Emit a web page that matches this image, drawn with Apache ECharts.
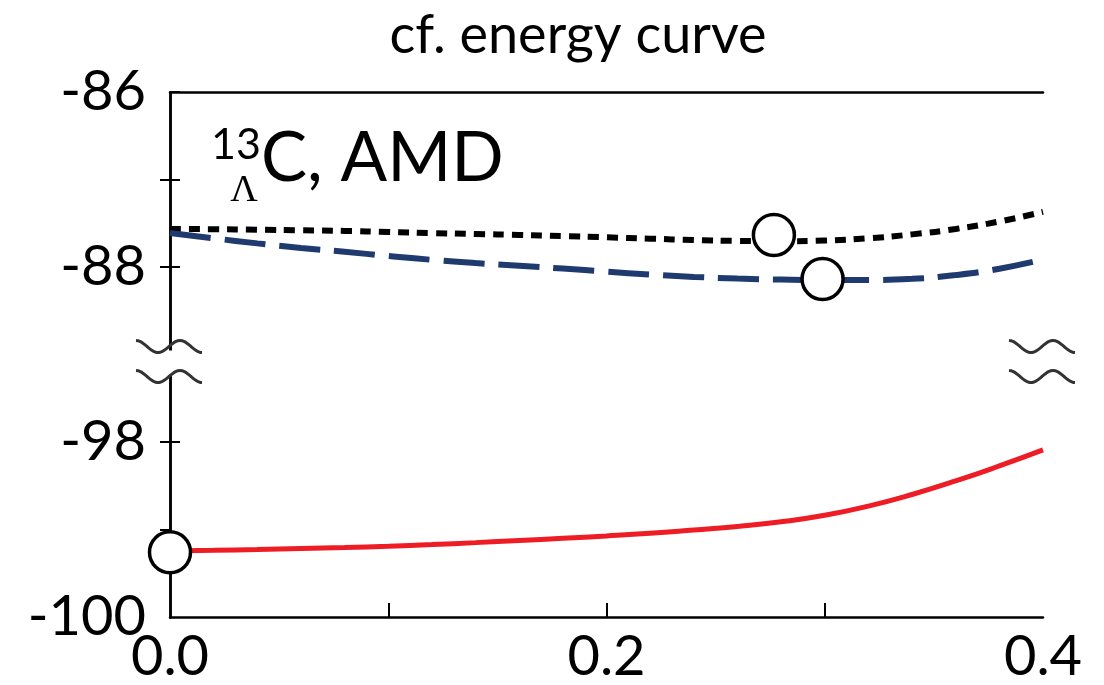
<!DOCTYPE html>
<html><head><meta charset="utf-8">
<script src="https://cdn.jsdelivr.net/npm/echarts@6/dist/echarts.min.js"></script>
<style>html,body{margin:0;padding:0;background:#fff}#c{width:1104px;height:685px}</style>
</head><body><div id="c"></div>
<script>
// ---- data ----
const xGrid = [0.00,0.02,0.04,0.06,0.08,0.10,0.12,0.14,0.16,0.18,0.20,0.22,0.24,0.26,0.28,0.30,0.32,0.34,0.36,0.38,0.40];
const dottedE = [-87.566,-87.568,-87.573,-87.580,-87.588,-87.600,-87.612,-87.623,-87.633,-87.647,-87.661,-87.676,-87.692,-87.702,-87.706,-87.698,-87.672,-87.627,-87.565,-87.480,-87.370];
const dashedE = [-87.611,-87.672,-87.730,-87.782,-87.826,-87.874,-87.918,-87.955,-87.985,-88.018,-88.053,-88.086,-88.113,-88.132,-88.143,-88.148,-88.148,-88.135,-88.092,-88.020,-87.915];
const solidE  = [-99.246,-99.238,-99.229,-99.218,-99.206,-99.191,-99.172,-99.150,-99.126,-99.101,-99.074,-99.043,-99.005,-98.965,-98.912,-98.838,-98.733,-98.600,-98.445,-98.274,-98.091];
const minX = [0.0, 0.2767, 0.299];
const minE = [-99.26, -87.634, -88.137];
const yLabelValues = [-100, -98, -88, -86];
const yTicksLeft = [-98, -88, -87, -86];
const yTicksRight = [-99, -98, -88, -87];
const xLabelValues = [0.0, 0.2, 0.4];
const xTickValues = [0.1, 0.2, 0.3];
const yBreakStart = -97, yBreakEnd = -89;
const titleText = 'cf. energy curve';

const FONT = 'Lato';
const chart = echarts.init(document.getElementById('c'), null, {renderer: 'canvas'});

function pairs(xs, ys) { return xs.map((x, i) => [x, ys[i]]); }

const yBase = {
  type: 'value', min: -100, max: -86,
  breaks: [{start: yBreakStart, end: yBreakEnd, gap: 0}],
  breakArea: {show: false},
  splitLine: {show: false},
  axisLine: {show: true, lineStyle: {color: '#000', width: 2.5}}
};

chart.setOption({
  animation: false,
  backgroundColor: '#fff',
  title: {
    text: titleText, left: 573, textAlign: 'center', top: 4,
    textStyle: {fontFamily: FONT, fontWeight: 'normal', fontSize: 54, color: '#000'}
  },
  grid: {left: 170, right: 61, top: 92, bottom: 68, containLabel: false},
  xAxis: [{
    type: 'value', min: 0, max: 0.4, position: 'bottom',
    splitLine: {show: false},
    axisLine: {lineStyle: {color: '#000', width: 2.5}},
    axisTick: {inside: true, length: 14, customValues: xTickValues, lineStyle: {color: '#000', width: 2}},
    axisLabel: {customValues: xLabelValues, formatter: v => v.toFixed(1), fontFamily: FONT, fontSize: 56, color: '#000', margin: 12}
  }, {
    type: 'value', min: 0, max: 0.4, position: 'top',
    splitLine: {show: false},
    axisLine: {lineStyle: {color: '#000', width: 2.5}},
    axisTick: {show: false}, axisLabel: {show: false}
  }],
  yAxis: [Object.assign({}, yBase, {
    position: 'left',
    axisTick: {inside: true, length: 10, customValues: yTicksLeft, lineStyle: {color: '#000', width: 2}},
    axisLabel: {customValues: yLabelValues, formatter: v => String(v), fontFamily: FONT, fontSize: 56, color: '#000', margin: 24, padding: [10, 0, 0, 0]}
  }), Object.assign({}, yBase, {
    position: 'right',
    axisTick: {inside: true, length: 10, customValues: yTicksRight, lineStyle: {color: '#000', width: 2}},
    axisLabel: {show: false}
  })],
  series: [{
    type: 'line', name: 'dotted', data: pairs(xGrid, dottedE), smooth: true, showSymbol: false, z: 3,
    lineStyle: {color: '#000', width: 6, type: [11, 8], cap: 'butt'}
  }, {
    type: 'line', name: 'dashed', data: pairs(xGrid, dashedE), smooth: true, showSymbol: false, z: 3,
    lineStyle: {color: '#1f3a6e', width: 6, type: [41, 14], cap: 'butt'}
  }, {
    type: 'line', name: 'solid', data: pairs(xGrid, solidE), smooth: true, showSymbol: false, z: 3,
    lineStyle: {color: '#ee1c24', width: 5}
  }, {
    type: 'scatter', name: 'minima', data: pairs(minX, minE), symbol: 'circle', symbolSize: 41, z: 6,
    itemStyle: {color: '#fff', borderColor: '#000', borderWidth: 3.5, opacity: 1}
  }]
});

// break decoration (cut axis lines + wavy marks)
const yb = chart.convertToPixel({yAxisIndex: 0}, yBreakEnd);
const xl = chart.convertToPixel({xAxisIndex: 0}, 0);
const xr = chart.convertToPixel({xAxisIndex: 0}, 0.4);
function wave(cx, yc) {
  const pts = [];
  for (let i = 0; i <= 30; i++) {
    const t = i / 30;
    pts.push([cx - 34 + t * 66, yc - 6 * Math.cos(2 * Math.PI * t * 1.5)]);
  }
  return {type: 'polyline', shape: {points: pts, smooth: 0.3}, style: {stroke: '#333', lineWidth: 3, fill: null}, z: 100};
}
const deco = [];
[xl, xr].forEach(cx => {
  deco.push({type: 'rect', shape: {x: cx - 12, y: yb - 4, width: 24, height: 24}, style: {fill: '#fff'}, z: 99});
  deco.push(wave(cx, yb - 8));
  deco.push(wave(cx, yb + 22));
});
// panel annotation
deco.push({type: 'text', x: 211, y: 145, style: {text: '13', font: '43px ' + FONT, fill: '#000', verticalAlign: 'middle', align: 'left'}, z: 50});
deco.push({type: 'text', x: 244, y: 191, style: {text: 'Λ', font: '38px "Liberation Serif"', fill: '#000', verticalAlign: 'middle', align: 'center'}, z: 50});
deco.push({type: 'text', x: 261, y: 159, style: {text: 'C, AMD', font: '69px ' + FONT, fill: '#000', verticalAlign: 'middle', align: 'left'}, z: 50});
chart.setOption({graphic: deco});
</script>
</body></html>
